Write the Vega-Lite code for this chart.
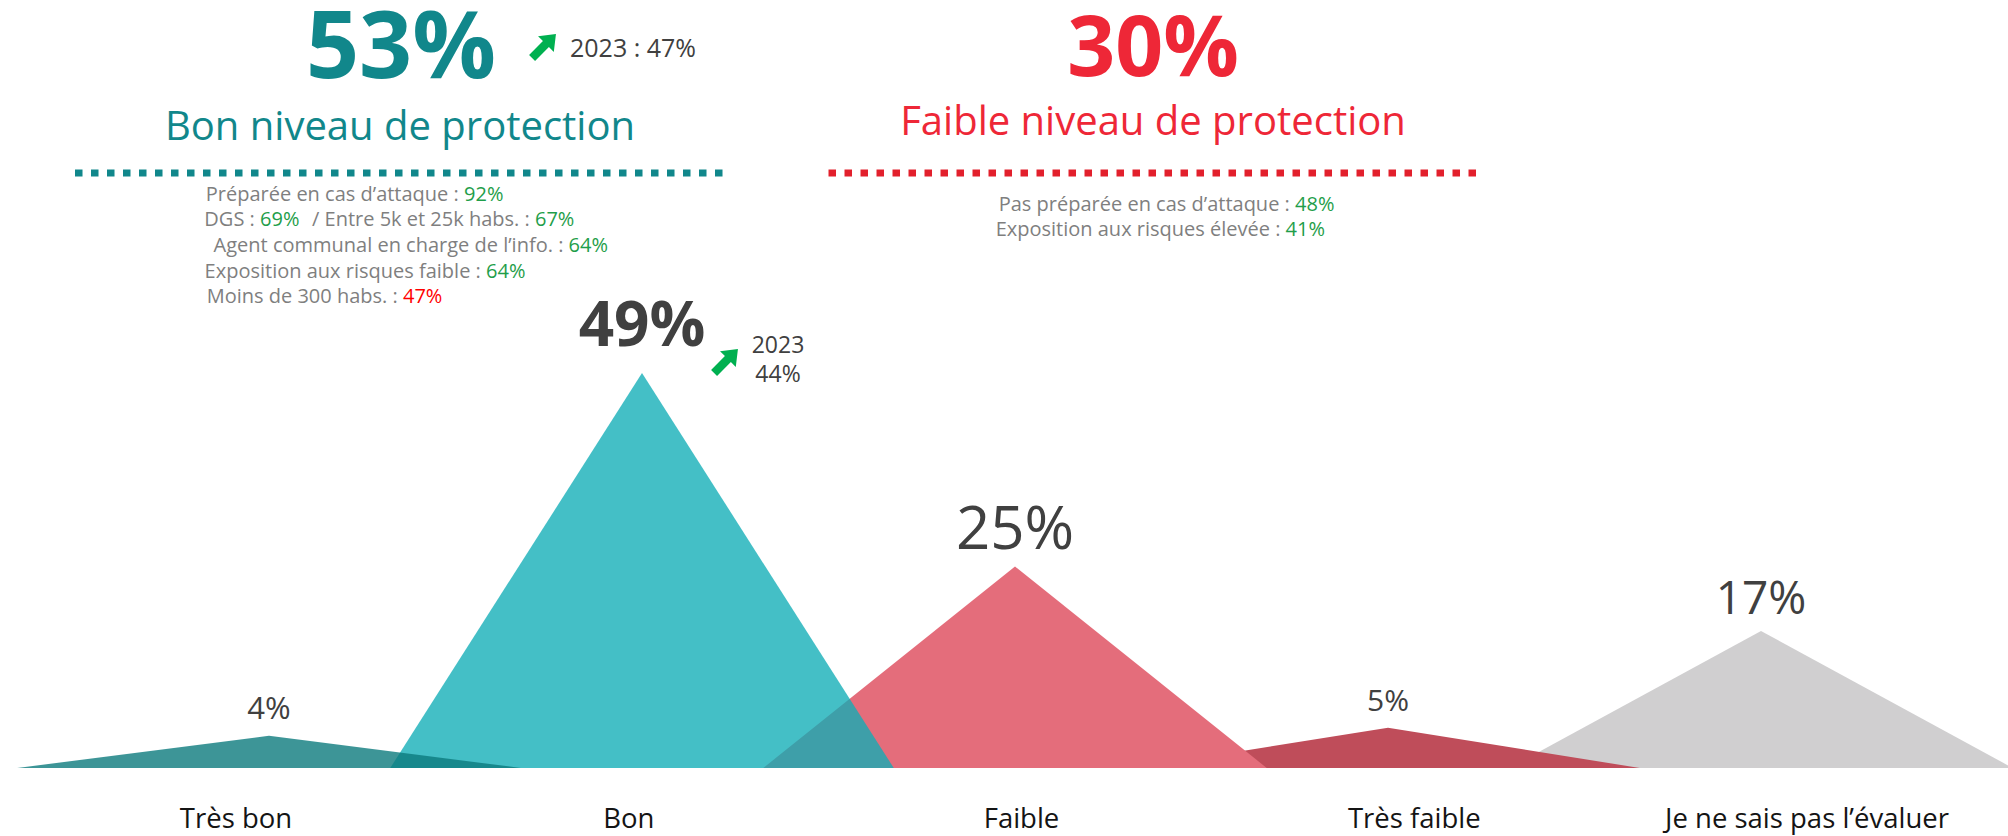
{
  "$schema": "https://vega.github.io/schema/vega-lite/v6.json",
  "width": 2008,
  "height": 836,
  "autosize": "none",
  "padding": 0,
  "background": "white",
  "config": {
    "view": {"stroke": null},
    "axis": {"disable": true},
    "legend": {"disable": true},
    "text": {"font": "Open Sans"}
  },
  "datasets": {
    "levels": [
      {"cat": "Très bon", "pos": 0, "share": 0.04},
      {"cat": "Bon", "pos": 1, "share": 0.49},
      {"cat": "Faible", "pos": 2, "share": 0.25},
      {"cat": "Très faible", "pos": 3, "share": 0.05},
      {"cat": "Je ne sais pas l’évaluer", "pos": 4, "share": 0.17}
    ],
    "shapes": [
      {"cat": "Je ne sais pas l’évaluer", "x": 3.325, "v": 0},
      {"cat": "Je ne sais pas l’évaluer", "x": 4, "v": 0.17},
      {"cat": "Je ne sais pas l’évaluer", "x": 4.675, "v": 0},
      {"cat": "Très faible", "x": 2.325, "v": 0},
      {"cat": "Très faible", "x": 3, "v": 0.05},
      {"cat": "Très faible", "x": 3.675, "v": 0},
      {"cat": "Faible", "x": 1.325, "v": 0},
      {"cat": "Faible", "x": 2, "v": 0.25},
      {"cat": "Faible", "x": 2.675, "v": 0},
      {"cat": "Bon", "x": 0.325, "v": 0},
      {"cat": "Bon", "x": 1, "v": 0.49},
      {"cat": "Bon", "x": 1.675, "v": 0},
      {"cat": "Très bon", "x": -0.675, "v": 0},
      {"cat": "Très bon", "x": 0, "v": 0.04},
      {"cat": "Très bon", "x": 0.675, "v": 0}
    ]
  },
  "layer": [
    {
      "layer": [
        {
          "data": {"name": "shapes"},
          "mark": {"type": "area", "opacity": 1},
          "encoding": {
            "x": {"field": "x", "type": "quantitative", "scale": {"domain": [-0.7212, 4.6622], "nice": false, "zero": false}},
            "y": {"field": "v", "type": "quantitative", "stack": null, "scale": {"domain": [-0.08437, 0.95285], "nice": false, "zero": false}},
            "color": {
              "field": "cat", "type": "nominal", "legend": null,
              "scale": {
                "domain": ["Très bon", "Bon", "Faible", "Très faible", "Je ne sais pas l’évaluer"],
                "range": ["rgba(12,122,125,0.8)", "rgba(15,173,182,0.78)", "#e46d7b", "#bf4d5a", "#d0cfd0"]
              }
            }
          }
        },
        {
          "data": {"values": [{}]},
          "mark": {"type": "rule", "color": "#11878b", "strokeWidth": 7, "strokeDash": [7.5, 8.5], "strokeCap": "butt"},
          "encoding": {"x": {"datum": -0.5201}, "x2": {"datum": 1.2225}, "y": {"datum": 0.7382}}
        },
        {
          "data": {"values": [{}]},
          "mark": {"type": "rule", "color": "#e2202c", "strokeWidth": 7, "strokeDash": [7.5, 8.5], "strokeCap": "butt"},
          "encoding": {"x": {"datum": 1.5}, "x2": {"datum": 3.2413}, "y": {"datum": 0.7382}}
        },
        {
          "data": {"values": [{}]},
          "mark": {"type": "text", "text": "53%", "fontSize": 93, "fontWeight": "bold", "color": "#11878b", "align": "center", "baseline": "alphabetic"},
          "encoding": {"x": {"datum": 0.3539}, "y": {"datum": 0.8561}}
        },
        {
          "data": {"values": [{}]},
          "mark": {"type": "point", "shape": "M0,-1L0.66,-0.16L0.25,-0.16L0.25,1L-0.25,1L-0.25,-0.16L-0.66,-0.16Z", "filled": true, "color": "#00b050", "opacity": 1, "size": 1140, "angle": 45},
          "encoding": {"x": {"datum": 0.7373}, "y": {"datum": 0.8958}}
        },
        {
          "data": {"values": [{}]},
          "mark": {"type": "text", "text": "2023 : 47%", "fontSize": 25, "color": "#404040", "align": "left", "baseline": "alphabetic"},
          "encoding": {"x": {"datum": 0.807}, "y": {"datum": 0.8821}}
        },
        {
          "data": {"values": [{}]},
          "mark": {"type": "text", "text": "Bon niveau de protection", "fontSize": 40, "color": "#11878b", "align": "center", "baseline": "alphabetic"},
          "encoding": {"x": {"datum": 0.3512}, "y": {"datum": 0.7792}}
        },
        {
          "data": {"values": [{}]},
          "mark": {"type": "text", "text": "30%", "fontSize": 84, "fontWeight": "bold", "color": "#ee2737", "align": "center", "baseline": "alphabetic"},
          "encoding": {"x": {"datum": 2.37}, "y": {"datum": 0.8586}}
        },
        {
          "data": {"values": [{}]},
          "mark": {"type": "text", "text": "Faible niveau de protection", "fontSize": 40, "color": "#ee2737", "align": "center", "baseline": "alphabetic"},
          "encoding": {"x": {"datum": 2.37}, "y": {"datum": 0.7854}}
        },
        {
          "data": {"values": [{}]},
          "mark": {"type": "text", "text": "Préparée en cas d’attaque :", "fontSize": 20, "color": "#7f7f7f", "align": "right", "baseline": "alphabetic", "dx": -5.2},
          "encoding": {"x": {"datum": 0.5228}, "y": {"datum": 0.7038}}
        },
        {
          "data": {"values": [{}]},
          "mark": {"type": "text", "text": "92%", "fontSize": 20, "color": "#1f9e4a", "align": "left", "baseline": "alphabetic"},
          "encoding": {"x": {"datum": 0.5228}, "y": {"datum": 0.7038}}
        },
        {
          "data": {"values": [{}]},
          "mark": {"type": "text", "text": "DGS :", "fontSize": 20, "color": "#7f7f7f", "align": "right", "baseline": "alphabetic", "dx": -5.2},
          "encoding": {"x": {"datum": -0.0241}, "y": {"datum": 0.6721}}
        },
        {
          "data": {"values": [{}]},
          "mark": {"type": "text", "text": "69%", "fontSize": 20, "color": "#1f9e4a", "align": "left", "baseline": "alphabetic"},
          "encoding": {"x": {"datum": -0.0241}, "y": {"datum": 0.6721}}
        },
        {
          "data": {"values": [{}]},
          "mark": {"type": "text", "text": "/ Entre 5k et 25k habs. :", "fontSize": 20, "color": "#7f7f7f", "align": "right", "baseline": "alphabetic", "dx": -5.2},
          "encoding": {"x": {"datum": 0.7131}, "y": {"datum": 0.6721}}
        },
        {
          "data": {"values": [{}]},
          "mark": {"type": "text", "text": "67%", "fontSize": 20, "color": "#1f9e4a", "align": "left", "baseline": "alphabetic"},
          "encoding": {"x": {"datum": 0.7131}, "y": {"datum": 0.6721}}
        },
        {
          "data": {"values": [{}]},
          "mark": {"type": "text", "text": "Agent communal en charge de l’info. :", "fontSize": 20, "color": "#7f7f7f", "align": "right", "baseline": "alphabetic", "dx": -5.2},
          "encoding": {"x": {"datum": 0.8032}, "y": {"datum": 0.6402}}
        },
        {
          "data": {"values": [{}]},
          "mark": {"type": "text", "text": "64%", "fontSize": 20, "color": "#1f9e4a", "align": "left", "baseline": "alphabetic"},
          "encoding": {"x": {"datum": 0.8032}, "y": {"datum": 0.6402}}
        },
        {
          "data": {"values": [{}]},
          "mark": {"type": "text", "text": "Exposition aux risques faible :", "fontSize": 20, "color": "#7f7f7f", "align": "right", "baseline": "alphabetic", "dx": -5.2},
          "encoding": {"x": {"datum": 0.5818}, "y": {"datum": 0.6084}}
        },
        {
          "data": {"values": [{}]},
          "mark": {"type": "text", "text": "64%", "fontSize": 20, "color": "#1f9e4a", "align": "left", "baseline": "alphabetic"},
          "encoding": {"x": {"datum": 0.5818}, "y": {"datum": 0.6084}}
        },
        {
          "data": {"values": [{}]},
          "mark": {"type": "text", "text": "Moins de 300 habs. :", "fontSize": 20, "color": "#7f7f7f", "align": "right", "baseline": "alphabetic", "dx": -5.2},
          "encoding": {"x": {"datum": 0.3592}, "y": {"datum": 0.5767}}
        },
        {
          "data": {"values": [{}]},
          "mark": {"type": "text", "text": "47%", "fontSize": 20, "color": "#ff0000", "align": "left", "baseline": "alphabetic"},
          "encoding": {"x": {"datum": 0.3592}, "y": {"datum": 0.5767}}
        },
        {
          "data": {"values": [{}]},
          "mark": {"type": "text", "text": "Pas préparée en cas d’attaque :", "fontSize": 20, "color": "#7f7f7f", "align": "right", "baseline": "alphabetic", "dx": -5.2},
          "encoding": {"x": {"datum": 2.7507}, "y": {"datum": 0.6914}}
        },
        {
          "data": {"values": [{}]},
          "mark": {"type": "text", "text": "48%", "fontSize": 20, "color": "#1f9e4a", "align": "left", "baseline": "alphabetic"},
          "encoding": {"x": {"datum": 2.7507}, "y": {"datum": 0.6914}}
        },
        {
          "data": {"values": [{}]},
          "mark": {"type": "text", "text": "Exposition aux risques élevée :", "fontSize": 20, "color": "#7f7f7f", "align": "right", "baseline": "alphabetic", "dx": -5.2},
          "encoding": {"x": {"datum": 2.7255}, "y": {"datum": 0.66}}
        },
        {
          "data": {"values": [{}]},
          "mark": {"type": "text", "text": "41%", "fontSize": 20, "color": "#1f9e4a", "align": "left", "baseline": "alphabetic"},
          "encoding": {"x": {"datum": 2.7255}, "y": {"datum": 0.66}}
        },
        {
          "data": {"name": "levels"},
          "transform": [{"filter": "datum.pos !== 1"}],
          "mark": {"type": "text", "color": "#404040", "align": "center", "baseline": "alphabetic", "dy": -17},
          "encoding": {
            "x": {"field": "pos", "type": "quantitative"},
            "y": {"field": "share", "type": "quantitative"},
            "text": {"field": "share", "type": "quantitative", "format": ".0%"},
            "size": {
              "condition": [
                {"test": "datum.pos === 2", "value": 60},
                {"test": "datum.pos === 4", "value": 46},
                {"test": "datum.pos === 3", "value": 30}
              ],
              "value": 31
            }
          }
        },
        {
          "data": {"name": "levels"},
          "transform": [{"filter": "datum.pos === 1"}],
          "mark": {"type": "text", "color": "#404040", "align": "center", "baseline": "alphabetic", "dy": -27.5, "fontSize": 62, "fontWeight": "bold"},
          "encoding": {
            "x": {"field": "pos", "type": "quantitative"},
            "y": {"field": "share", "type": "quantitative"},
            "text": {"field": "share", "type": "quantitative", "format": ".0%"}
          }
        },
        {
          "data": {"values": [{}]},
          "mark": {"type": "point", "shape": "M0,-1L0.66,-0.16L0.25,-0.16L0.25,1L-0.25,1L-0.25,-0.16L-0.66,-0.16Z", "filled": true, "color": "#00b050", "opacity": 1, "size": 1140, "angle": 45},
          "encoding": {"x": {"datum": 1.2252}, "y": {"datum": 0.505}}
        },
        {
          "data": {"values": [{}]},
          "mark": {"type": "text", "text": "2023", "fontSize": 23, "color": "#404040", "align": "center", "baseline": "alphabetic"},
          "encoding": {"x": {"datum": 1.3646}, "y": {"datum": 0.5149}}
        },
        {
          "data": {"values": [{}]},
          "mark": {"type": "text", "text": "44%", "fontSize": 23, "color": "#404040", "align": "center", "baseline": "alphabetic"},
          "encoding": {"x": {"datum": 1.3646}, "y": {"datum": 0.4789}}
        }
      ]
    },
    {
      "data": {"name": "levels"},
      "mark": {"type": "text", "fontSize": 27.5, "color": "#141414", "align": "center", "baseline": "alphabetic"},
      "encoding": {
        "x": {
          "field": "cat", "type": "nominal",
          "scale": {"type": "point", "domain": ["Très bon", "Bon", "Faible", "Très faible", "Je ne sais pas l’évaluer"], "range": [236, 1807], "padding": 0}
        },
        "y": {"datum": -0.07444},
        "text": {"field": "cat", "type": "nominal"}
      }
    }
  ],
  "resolve": {"scale": {"x": "independent"}}
}
